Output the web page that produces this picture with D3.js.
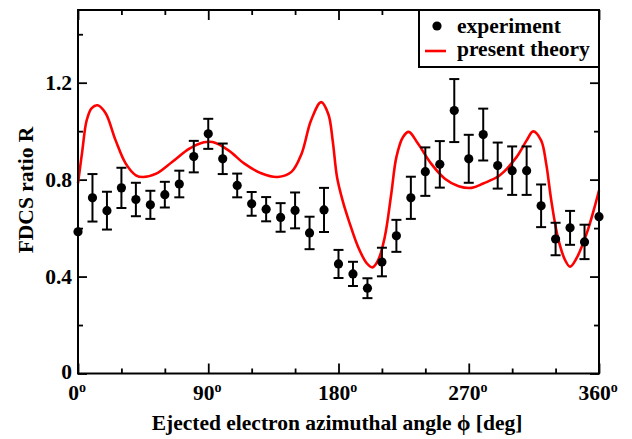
<!DOCTYPE html>
<html>
<head>
<meta charset="utf-8">
<script src="https://cdn.jsdelivr.net/npm/d3@7"></script>
<style>
  body { margin: 0; background: #fff; }
  text { font-family: "Liberation Serif", "Times New Roman", serif; font-weight: bold; fill: #000; }
</style>
</head>
<body>
<svg id="chart" width="632" height="439"></svg>
<script>
// Experiment: azimuthal angle (deg), FDCS ratio, half error bar
const expAngle = [0, 10, 20, 30, 40, 50, 60, 70, 80, 90, 100, 110, 120, 130, 140, 150, 160, 170, 180,
  190, 200, 210, 220, 230, 240, 250, 260, 270, 280, 290, 300, 310, 320, 330, 340, 350, 360];
const expRatio = [0.585, 0.725, 0.672, 0.766, 0.718, 0.696, 0.738, 0.782, 0.895, 0.989, 0.886, 0.776, 0.700,
  0.678, 0.644, 0.673, 0.580, 0.675, 0.452, 0.411, 0.352, 0.460, 0.568, 0.725, 0.833, 0.863, 1.085, 0.886,
  0.986, 0.858, 0.837, 0.837, 0.692, 0.555, 0.601, 0.543, 0.647];
const expError = [0, 0.098, 0.078, 0.083, 0.069, 0.058, 0.053, 0.055, 0.065, 0.062, 0.063, 0.049, 0.049,
  0.050, 0.059, 0.074, 0.067, 0.091, 0.058, 0.050, 0.041, 0.059, 0.066, 0.087, 0.100, 0.096, 0.130, 0.099,
  0.107, 0.095, 0.100, 0.100, 0.088, 0.067, 0.070, 0.071, 0];

// Present theory curve
const theoryAngle = [0, 3, 6, 9.5, 13.5, 19, 26, 33, 40, 45, 54, 65, 77, 87, 93, 104, 115, 127, 138, 147.5,
  154.5, 161, 168, 173, 176, 179, 183, 187, 193.5, 199.5, 203.5, 207.5, 212, 216.5, 220, 224.5, 228.5, 235,
  244, 253.5, 263, 272, 280, 291.5, 303, 310, 314.5, 320, 323.5, 327, 331.5, 336.5, 340, 344.5, 351.5, 357, 360];
const theoryRatio = [0.785, 0.92, 1.045, 1.095, 1.107, 1.075, 0.962, 0.866, 0.818, 0.811, 0.825, 0.873,
  0.928, 0.954, 0.955, 0.921, 0.866, 0.825, 0.811, 0.832, 0.907, 1.044, 1.12, 1.07, 0.96, 0.81, 0.71, 0.633,
  0.523, 0.455, 0.438, 0.469, 0.564, 0.743, 0.893, 0.975, 0.997, 0.948, 0.866, 0.804, 0.773, 0.766, 0.784,
  0.818, 0.893, 0.962, 0.999, 0.962, 0.866, 0.715, 0.564, 0.469, 0.441, 0.476, 0.578, 0.688, 0.755];

// Axis ticks and labels
const xMajor = [0, 90, 180, 270, 360];
const xMinor = [30, 60, 120, 150, 210, 240, 300, 330];
const xTickLabels = ["0", "90", "180", "270", "360"];
const yMajor = [0, 0.4, 0.8, 1.2];
const yMinor = [0.2, 0.6, 1.0, 1.4];
const yTickLabels = ["0", "0.4", "0.8", "1.2"];

const margin = { left: 78, right: 33, top: 10, bottom: 65.5 };
const width = 632, height = 439;
const fontSize = 21.5;

const svg = d3.select("#chart");
svg.append("rect").attr("width", width).attr("height", height).attr("fill", "#fff");

const x = d3.scaleLinear().domain([0, 360]).range([margin.left, width - margin.right]);
const y = d3.scaleLinear().domain([0, 1.5]).range([height - margin.bottom, margin.top]);

// Ticks on all four sides, pointing inwards
function tickAxis(axis, vals, len, transform) {
  svg.append("g")
    .attr("transform", transform)
    .call(axis.tickValues(vals).tickSizeInner(-len).tickSizeOuter(0).tickFormat(""))
    .call(g => g.select(".domain").remove())
    .call(g => g.selectAll("line").attr("stroke", "#000").attr("stroke-width", 1.8));
}
const bottomY = height - margin.bottom, rightX = width - margin.right;
tickAxis(d3.axisBottom(x), xMajor, 10, `translate(0,${bottomY})`);
tickAxis(d3.axisBottom(x), xMinor, 5, `translate(0,${bottomY})`);
tickAxis(d3.axisTop(x), xMajor, 10, `translate(0,${margin.top})`);
tickAxis(d3.axisTop(x), xMinor, 5, `translate(0,${margin.top})`);
tickAxis(d3.axisLeft(y), yMajor, 9, `translate(${margin.left},0)`);
tickAxis(d3.axisLeft(y), yMinor, 5, `translate(${margin.left},0)`);
tickAxis(d3.axisRight(y), yMajor, 9, `translate(${rightX},0)`);
tickAxis(d3.axisRight(y), yMinor, 5, `translate(${rightX},0)`);

// Theory curve
const line = d3.line()
  .x(d => x(d[0]))
  .y(d => y(d[1]))
  .curve(d3.curveCatmullRom.alpha(0.5));
svg.append("path")
  .datum(theoryAngle.map((a, i) => [a, theoryRatio[i]]))
  .attr("d", line)
  .attr("fill", "none")
  .attr("stroke", "#ff0000")
  .attr("stroke-width", 2.6);

// Experimental points with error bars
const expData = expAngle.map((a, i) => ({ a, r: expRatio[i], e: expError[i] }));
const bars = svg.append("g").attr("stroke", "#000").attr("stroke-width", 2)
  .selectAll("g").data(expData.filter(d => d.e > 0)).join("g");
bars.append("line")
  .attr("x1", d => x(d.a)).attr("x2", d => x(d.a))
  .attr("y1", d => y(d.r - d.e)).attr("y2", d => y(d.r + d.e));
bars.append("line")
  .attr("x1", d => x(d.a) - 5).attr("x2", d => x(d.a) + 5)
  .attr("y1", d => y(d.r + d.e)).attr("y2", d => y(d.r + d.e));
bars.append("line")
  .attr("x1", d => x(d.a) - 5).attr("x2", d => x(d.a) + 5)
  .attr("y1", d => y(d.r - d.e)).attr("y2", d => y(d.r - d.e));

svg.append("g").selectAll("circle").data(expData).join("circle")
  .attr("cx", d => x(d.a))
  .attr("cy", d => y(d.r))
  .attr("r", 4.6)
  .attr("fill", "#000");

// Frame
svg.append("rect")
  .attr("x", margin.left).attr("y", margin.top)
  .attr("width", rightX - margin.left).attr("height", bottomY - margin.top)
  .attr("fill", "none").attr("stroke", "#000").attr("stroke-width", 2);

function label(px, py, anchor, rotate) {
  return svg.append("text")
    .attr("transform", `translate(${px},${py})${rotate ? " rotate(-90)" : ""}`)
    .attr("text-anchor", anchor)
    .style("font-size", fontSize + "px");
}

// Tick labels
xMajor.forEach((v, i) => {
  const t = label(x(v) - 1, bottomY + 26, "middle");
  t.append("tspan").text(xTickLabels[i]);
  t.append("tspan").attr("dy", -8).style("font-size", "14px").text("o");
});
yMajor.forEach((v, i) => {
  label(margin.left - 6, y(v) + (v === 0 ? 5 : 7.5), "end").text(yTickLabels[i]);
});

// Axis titles
label(337, 430, "middle").text("Ejected electron azimuthal angle \u03d5 [deg]");
label(33, 190, "middle", true).text("FDCS ratio R");

// Legend
const lg = svg.append("g");
lg.append("rect")
  .attr("x", 419).attr("y", margin.top)
  .attr("width", rightX - 419).attr("height", 57)
  .attr("fill", "#fff").attr("stroke", "#000").attr("stroke-width", 2);
lg.append("circle").attr("cx", 437).attr("cy", 26).attr("r", 4.6).attr("fill", "#000");
lg.append("line").attr("x1", 425).attr("x2", 446).attr("y1", 51).attr("y2", 51)
  .attr("stroke", "#ff0000").attr("stroke-width", 2.6);
label(457, 32.5, "start").text("experiment");
label(457, 56, "start").text("present theory");
</script>
</body>
</html>
